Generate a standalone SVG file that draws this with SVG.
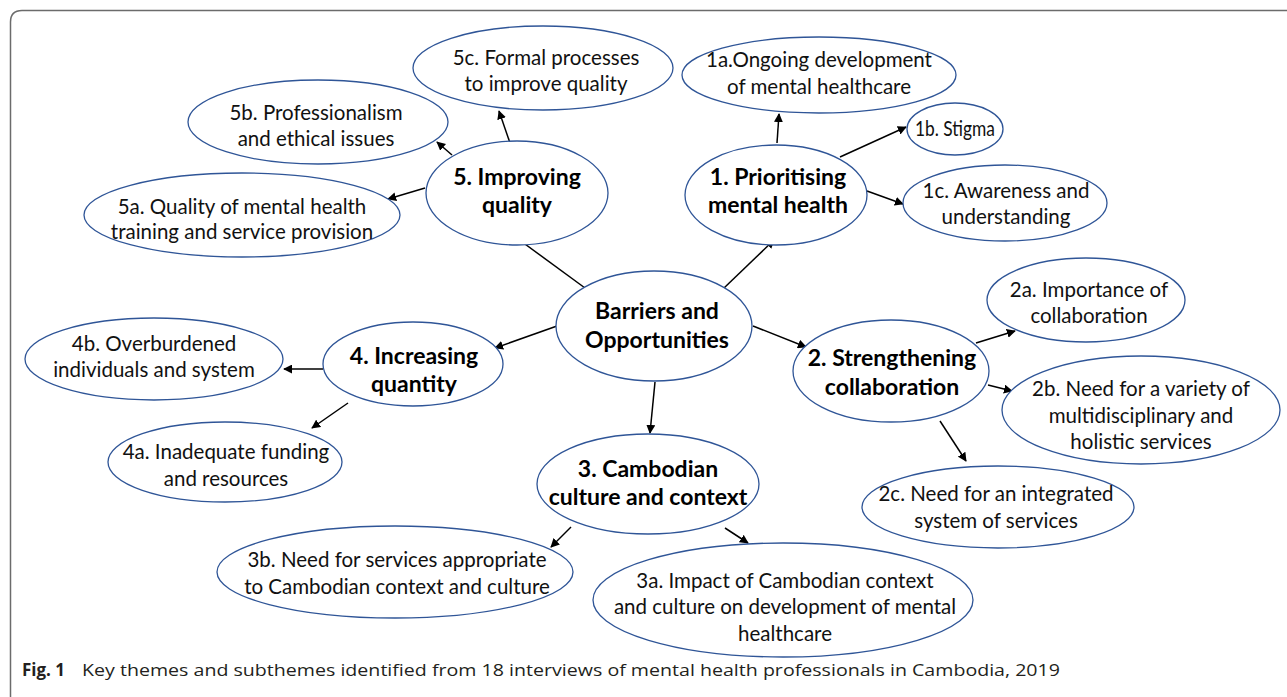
<svg xmlns="http://www.w3.org/2000/svg" width="1287" height="697" viewBox="0 0 1287 697">
  <defs>
    <marker id="arrow" viewBox="0 0 10 10" refX="9" refY="5" markerWidth="9" markerHeight="9" markerUnits="userSpaceOnUse" orient="auto">
      <path d="M0,0 L10,5 L0,10 z" fill="#000"/>
    </marker>
    <style>
      .node ellipse { fill: #fff; stroke: #2F5597; stroke-width: 1.3; }
      .sub { font-family: Lato, "Liberation Sans", sans-serif; font-size: 20.5px; fill: #111; text-anchor: middle; }
      .theme { font-family: Lato, "Liberation Sans", sans-serif; font-size: 23px; font-weight: bold; fill: #000; text-anchor: middle; }
      #connectors line { stroke: #000; stroke-width: 1.5; marker-end: url(#arrow); }
      .frame { fill: none; stroke: #6b6b6b; stroke-width: 1.5; }
      .caption { font-family: "Open Sans", "Liberation Sans", sans-serif; font-size: 17px; fill: #231f20; }
    </style>
  </defs>

  <rect width="1287" height="697" fill="#fff"/>
  <path class="frame" d="M10.5,697 L10.5,22 Q10.5,10.5 22,10.5 L1287,10.5"/>

  <!-- connectors -->
  <g id="connectors">
    <line x1="724" y1="288" x2="774" y2="240"/>
    <line x1="777" y1="143" x2="779" y2="114"/>
    <line x1="840" y1="157" x2="906" y2="127"/>
    <line x1="867" y1="191" x2="903" y2="204"/>
    <line x1="585" y1="288" x2="514" y2="236"/>
    <line x1="510" y1="143" x2="499" y2="111"/>
    <line x1="452" y1="155" x2="437" y2="142"/>
    <line x1="425" y1="188" x2="388" y2="199"/>
    <line x1="557" y1="326" x2="495" y2="348"/>
    <line x1="323" y1="369" x2="284" y2="369"/>
    <line x1="348" y1="403" x2="312" y2="428"/>
    <line x1="655" y1="382" x2="650" y2="433"/>
    <line x1="571" y1="527" x2="551" y2="547"/>
    <line x1="725" y1="528" x2="748" y2="543"/>
    <line x1="753" y1="326" x2="806" y2="347"/>
    <line x1="976" y1="343" x2="1015" y2="331"/>
    <line x1="988" y1="385" x2="1012" y2="391"/>
    <line x1="940" y1="421" x2="966" y2="461"/>
  </g>

  <!-- central node -->
  <g id="barriers" class="node">
    <ellipse cx="654" cy="326" rx="98" ry="55"/>
    <text class="theme" x="657" y="319">Barriers and</text>
    <text class="theme" x="657" y="348">Opportunities</text>
  </g>

  <!-- theme 1 -->
  <g id="t1" class="node">
    <ellipse cx="776" cy="195" rx="91" ry="50"/>
    <text class="theme" x="778" y="185">1. Prioritising</text>
    <text class="theme" x="778" y="213">mental health</text>
  </g>
  <g id="t1a" class="node">
    <ellipse cx="819" cy="75" rx="137" ry="38"/>
    <text class="sub" x="819" y="67">1a.Ongoing development</text>
    <text class="sub" x="819" y="94">of mental healthcare</text>
  </g>
  <g id="t1b" class="node">
    <ellipse cx="955" cy="129" rx="48" ry="26"/>
    <text class="sub" x="955" y="136" textLength="80" lengthAdjust="spacingAndGlyphs">1b. Stigma</text>
  </g>
  <g id="t1c" class="node">
    <ellipse cx="1005" cy="203" rx="102" ry="38"/>
    <text class="sub" x="1006" y="198">1c. Awareness and</text>
    <text class="sub" x="1006" y="224">understanding</text>
  </g>

  <!-- theme 5 -->
  <g id="t5" class="node">
    <ellipse cx="517" cy="193" rx="91" ry="52"/>
    <text class="theme" x="517" y="185">5. Improving</text>
    <text class="theme" x="517" y="213">quality</text>
  </g>
  <g id="t5c" class="node">
    <ellipse cx="543" cy="68" rx="130" ry="42"/>
    <text class="sub" x="546" y="65">5c. Formal processes</text>
    <text class="sub" x="546" y="91">to improve quality</text>
  </g>
  <g id="t5b" class="node">
    <ellipse cx="318" cy="122" rx="130" ry="42"/>
    <text class="sub" x="316" y="120">5b. Professionalism</text>
    <text class="sub" x="316" y="146">and ethical issues</text>
  </g>
  <g id="t5a" class="node">
    <ellipse cx="242" cy="215" rx="158" ry="42"/>
    <text class="sub" x="242" y="214">5a. Quality of mental health</text>
    <text class="sub" x="242" y="239">training and service provision</text>
  </g>

  <!-- theme 4 -->
  <g id="t4" class="node">
    <ellipse cx="413" cy="364" rx="90" ry="42"/>
    <text class="theme" x="414" y="364">4. Increasing</text>
    <text class="theme" x="414" y="392">quantity</text>
  </g>
  <g id="t4b" class="node">
    <ellipse cx="154" cy="359" rx="129" ry="41"/>
    <text class="sub" x="154" y="351">4b. Overburdened</text>
    <text class="sub" x="154" y="377">individuals and system</text>
  </g>
  <g id="t4a" class="node">
    <ellipse cx="225" cy="462" rx="117" ry="40"/>
    <text class="sub" x="226" y="459">4a. Inadequate funding</text>
    <text class="sub" x="226" y="486">and resources</text>
  </g>

  <!-- theme 3 -->
  <g id="t3" class="node">
    <ellipse cx="648" cy="484" rx="111" ry="50"/>
    <text class="theme" x="648" y="477">3. Cambodian</text>
    <text class="theme" x="648" y="505">culture and context</text>
  </g>
  <g id="t3b" class="node">
    <ellipse cx="395" cy="572" rx="178" ry="46"/>
    <text class="sub" x="397" y="567">3b. Need for services appropriate</text>
    <text class="sub" x="397" y="594">to Cambodian context and culture</text>
  </g>
  <g id="t3a" class="node">
    <ellipse cx="783" cy="600" rx="190" ry="57"/>
    <text class="sub" x="785" y="588">3a. Impact of Cambodian context</text>
    <text class="sub" x="785" y="614">and culture on development of mental</text>
    <text class="sub" x="785" y="641">healthcare</text>
  </g>

  <!-- theme 2 -->
  <g id="t2" class="node">
    <ellipse cx="891" cy="371" rx="98" ry="51"/>
    <text class="theme" x="892" y="366">2. Strengthening</text>
    <text class="theme" x="892" y="395">collaboration</text>
  </g>
  <g id="t2a" class="node">
    <ellipse cx="1086" cy="300" rx="99" ry="42"/>
    <text class="sub" x="1089" y="297">2a. Importance of</text>
    <text class="sub" x="1089" y="323">collaboration</text>
  </g>
  <g id="t2b" class="node">
    <ellipse cx="1141" cy="410" rx="139" ry="54"/>
    <text class="sub" x="1141" y="396">2b. Need for a variety of</text>
    <text class="sub" x="1141" y="423">multidisciplinary and</text>
    <text class="sub" x="1141" y="449">holistic services</text>
  </g>
  <g id="t2c" class="node">
    <ellipse cx="998" cy="507" rx="136" ry="41"/>
    <text class="sub" x="996" y="501">2c. Need for an integrated</text>
    <text class="sub" x="996" y="528">system of services</text>
  </g>

  <!-- caption -->
  <text class="caption" x="22" y="676"><tspan font-weight="bold" font-size="18px" textLength="43" lengthAdjust="spacingAndGlyphs">Fig. 1</tspan><tspan x="82" textLength="978" lengthAdjust="spacingAndGlyphs">Key themes and subthemes identified from 18 interviews of mental health professionals in Cambodia, 2019</tspan></text>
</svg>
